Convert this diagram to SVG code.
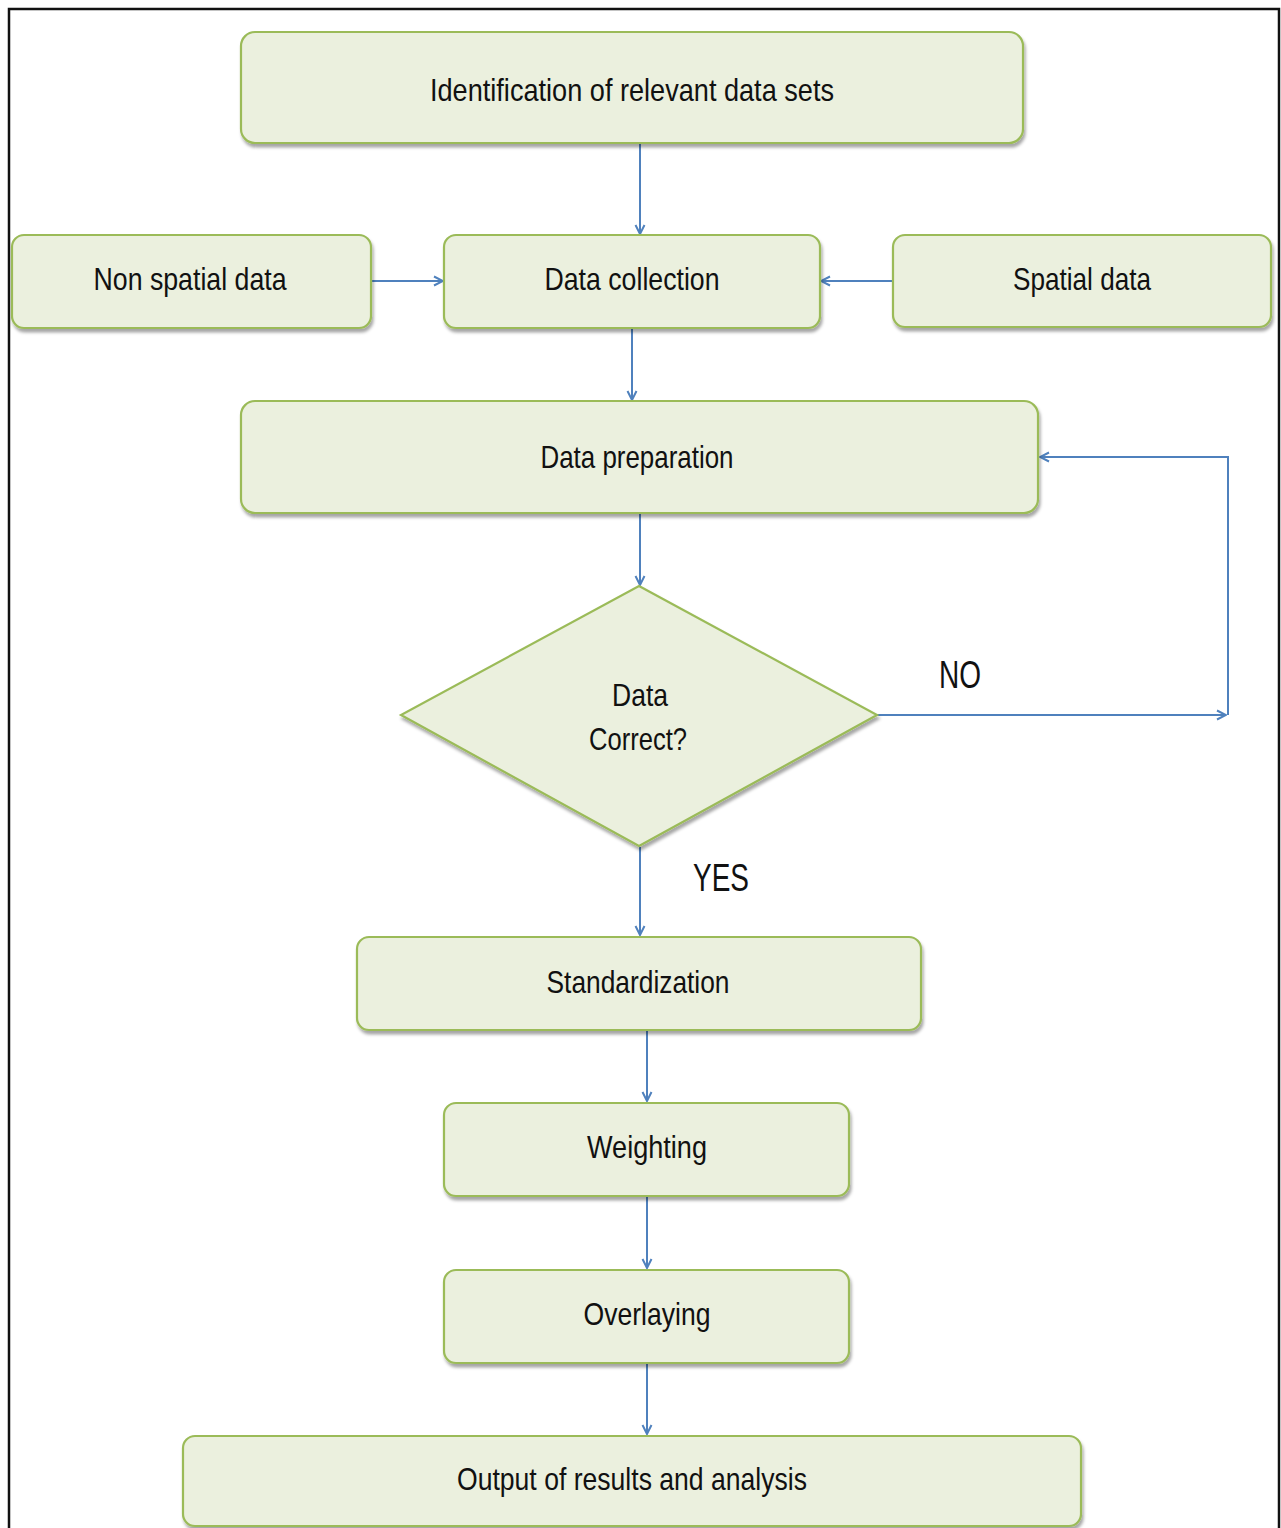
<svg xmlns="http://www.w3.org/2000/svg" width="1281" height="1528" viewBox="0 0 1281 1528">
<style>
.box{fill:#ebf0de;stroke:#9bbb59;stroke-width:2.2;filter:url(#sh)}
.t{font-family:"Liberation Sans",Arial,sans-serif;font-size:32px;fill:#111;text-anchor:middle}
.lbl{font-family:"Liberation Sans",Arial,sans-serif;font-size:38px;fill:#111;text-anchor:middle}
.c{fill:none;stroke:#4f81bd;stroke-width:2;marker-end:url(#ah)}
</style>
<defs>
<filter id="sh" x="-5%" y="-10%" width="110%" height="130%">
<feDropShadow dx="1.5" dy="3.5" stdDeviation="1.5" flood-color="#000" flood-opacity="0.35"/>
</filter>
<marker id="ah" viewBox="0 0 12 12" refX="11" refY="6" markerWidth="12" markerHeight="12" markerUnits="userSpaceOnUse" orient="auto">
<path d="M2,1.5 L11,6 L2,10.5" fill="none" stroke="#4f81bd" stroke-width="2"/>
</marker>
</defs>
<rect width="1281" height="1528" fill="#fff"/>
<rect x="9" y="9" width="1270" height="1540" fill="none" stroke="#111" stroke-width="2.5"/>

<g id="connectors">
<line class="c" x1="640" y1="144" x2="640" y2="234"/>
<line class="c" x1="372" y1="281" x2="443" y2="281"/>
<line class="c" x1="893" y1="281" x2="821" y2="281"/>
<line class="c" x1="632" y1="329" x2="632" y2="400"/>
<line class="c" x1="640" y1="514" x2="640" y2="585"/>
<line class="c" x1="877" y1="715" x2="1226" y2="715"/>
<polyline class="c" points="1228,715 1228,457 1040,457"/>
<line class="c" x1="640" y1="847" x2="640" y2="935"/>
<line class="c" x1="647" y1="1031" x2="647" y2="1101"/>
<line class="c" x1="647" y1="1197" x2="647" y2="1268"/>
<line class="c" x1="647" y1="1364" x2="647" y2="1434"/>
<text class="lbl" x="960" y="688" textLength="42" lengthAdjust="spacingAndGlyphs">NO</text>
<text class="lbl" x="721" y="891" textLength="56" lengthAdjust="spacingAndGlyphs">YES</text>
</g>

<g id="n1"><rect class="box" x="241" y="32" width="782" height="111" rx="14"/>
<text class="t" x="632" y="101" textLength="404" lengthAdjust="spacingAndGlyphs">Identification of relevant data sets</text></g>

<g id="n2"><rect class="box" x="12" y="235" width="359" height="93" rx="12"/>
<text class="t" x="190" y="290" textLength="193" lengthAdjust="spacingAndGlyphs">Non spatial data</text></g>

<g id="n3"><rect class="box" x="444" y="235" width="376" height="93" rx="12"/>
<text class="t" x="632" y="290" textLength="175" lengthAdjust="spacingAndGlyphs">Data collection</text></g>

<g id="n4"><rect class="box" x="893" y="235" width="378" height="92" rx="12"/>
<text class="t" x="1082" y="290" textLength="138" lengthAdjust="spacingAndGlyphs">Spatial data</text></g>

<g id="n5"><rect class="box" x="241" y="401" width="797" height="112" rx="14"/>
<text class="t" x="637" y="468" textLength="193" lengthAdjust="spacingAndGlyphs">Data preparation</text></g>

<g id="n6"><polygon class="box" points="639,586 877,715 639,846 401,715"/>
<text class="t" x="640" y="706" textLength="56" lengthAdjust="spacingAndGlyphs">Data</text>
<text class="t" x="638" y="750" textLength="98" lengthAdjust="spacingAndGlyphs">Correct?</text></g>

<g id="n7"><rect class="box" x="357" y="937" width="564" height="93" rx="12"/>
<text class="t" x="638" y="993" textLength="183" lengthAdjust="spacingAndGlyphs">Standardization</text></g>

<g id="n8"><rect class="box" x="444" y="1103" width="405" height="93" rx="12"/>
<text class="t" x="647" y="1158" textLength="120" lengthAdjust="spacingAndGlyphs">Weighting</text></g>

<g id="n9"><rect class="box" x="444" y="1270" width="405" height="93" rx="12"/>
<text class="t" x="647" y="1325" textLength="127" lengthAdjust="spacingAndGlyphs">Overlaying</text></g>

<g id="n10"><rect class="box" x="183" y="1436" width="898" height="90" rx="12"/>
<text class="t" x="632" y="1490" textLength="350" lengthAdjust="spacingAndGlyphs">Output of results and analysis</text></g>
</svg>
